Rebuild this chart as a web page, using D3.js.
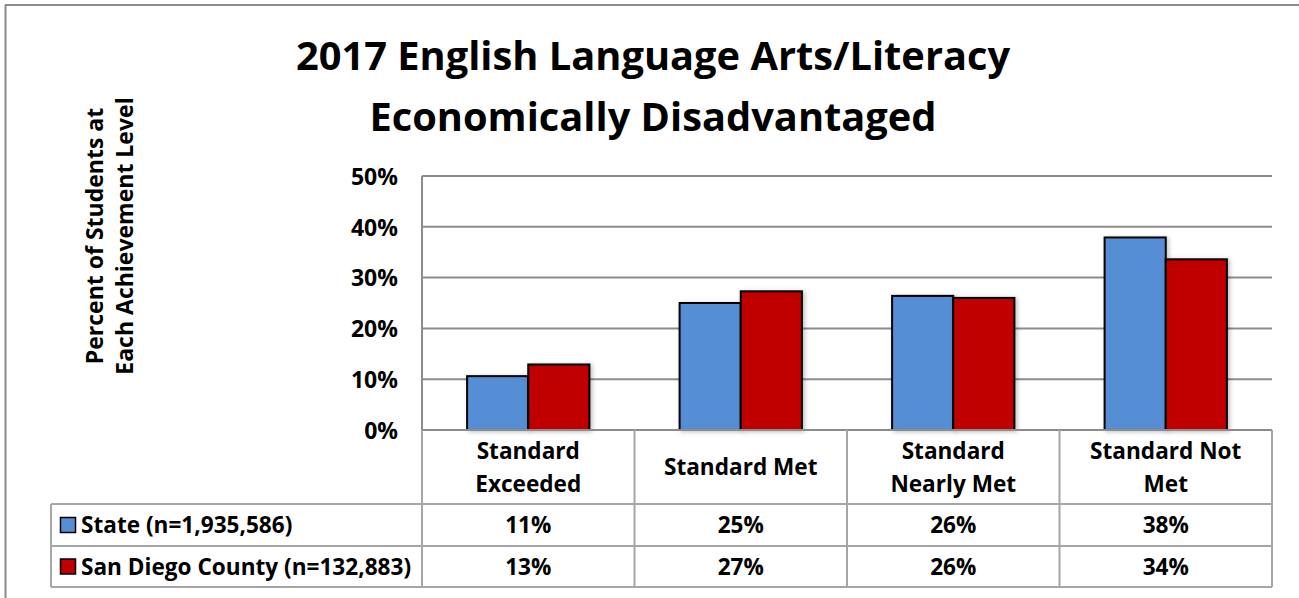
<!DOCTYPE html>
<html><head><meta charset="utf-8">
<script src="https://cdn.jsdelivr.net/npm/d3@7"></script>
<style>
body{margin:0;background:#fff}
svg{display:block}
text{font-family:"Open Sans", Lato, sans-serif;font-weight:bold;fill:#000}
</style>
</head><body>
<svg id="chart" width="1299" height="598"></svg>
<script>
// ---- data ----
const categories = ["Standard Exceeded", "Standard Met", "Standard Nearly Met", "Standard Not Met"];
const categoryLines = [["Standard", "Exceeded"], ["Standard Met"], ["Standard", "Nearly Met"], ["Standard Not", "Met"]];
const seriesNames = ["State (n=1,935,586)", "San Diego County (n=132,883)"];
const stateValues = [10.6, 25.0, 26.4, 37.9];
const sanDiegoValues = [12.9, 27.3, 26.0, 33.6];
const yTicks = [0, 10, 20, 30, 40, 50];
const titleLines = ["2017 English Language Arts/Literacy", "Economically Disadvantaged"];
const yTitleLines = ["Percent of Students at", "Each Achievement Level"];
const seriesColors = ["#558ED5", "#C00000"];

// ---- layout ----
const svg = d3.select("#chart");
const plot = {left: 422, right: 1272, top: 176, bottom: 430};
const tableLeft = 51, headerBottom = 504, row1Bottom = 546, row2Bottom = 587;
const gridColor = "#8c8c8c", tableColor = "#a6a6a6";
const FONT = '"Open Sans", Lato, sans-serif';

const defs = svg.append("defs");
const f = defs.append("filter").attr("id", "shadow").attr("x", "-20%").attr("y", "-20%").attr("width", "140%").attr("height", "140%");
f.append("feDropShadow").attr("dx", 2).attr("dy", 1).attr("stdDeviation", 2).attr("flood-color", "#000").attr("flood-opacity", 0.25);

// outer frame (top and left)
svg.append("line").attr("x1", 5).attr("x2", 1299).attr("y1", 5).attr("y2", 5).attr("stroke", "#8c8c8c").attr("stroke-width", 2);
svg.append("line").attr("x1", 5.5).attr("x2", 5.5).attr("y1", 5).attr("y2", 598).attr("stroke", "#8c8c8c").attr("stroke-width", 2);

// title
svg.append("g").selectAll("text").data(titleLines).join("text")
  .attr("x", 653).attr("y", (d, i) => 70 + i * 61)
  .attr("text-anchor", "middle").attr("font-size", 39.8).text(d => d);

// y title
const yt = svg.append("g").attr("transform", "translate(110,236) rotate(-90)");
yt.selectAll("text").data(yTitleLines).join("text")
  .attr("x", 0).attr("y", (d, i) => -7 + i * 30)
  .attr("text-anchor", "middle").attr("font-size", 23).text(d => d);

// scales
const y = d3.scaleLinear().domain([0, 50]).range([plot.bottom, plot.top]);
const x0 = d3.scaleBand().domain(categories).range([plot.left, plot.right]).paddingInner(0.4245).paddingOuter(0.21225);
const x1 = d3.scaleBand().domain(seriesNames).range([0, x0.bandwidth()]);
const band = (plot.right - plot.left) / categories.length;

// gridlines
svg.append("g").selectAll("line").data(yTicks.filter(d => d > 0)).join("line")
  .attr("x1", plot.left).attr("x2", plot.right)
  .attr("y1", d => y(d)).attr("y2", d => y(d))
  .attr("stroke", gridColor).attr("stroke-width", 2);

// y axis
const yAxis = svg.append("g").attr("transform", `translate(${plot.left - 24},0)`)
  .call(d3.axisLeft(y).tickValues(yTicks).tickFormat(d => d + "%").tickSize(0).tickPadding(0));
yAxis.select(".domain").remove();
yAxis.selectAll("text").attr("font-size", 23).attr("font-family", FONT).attr("fill", "#000").attr("dy", "0.36em");
svg.append("line").attr("x1", plot.left).attr("x2", plot.left).attr("y1", plot.top).attr("y2", plot.bottom)
  .attr("stroke", gridColor).attr("stroke-width", 2);

// bars
const seriesData = [stateValues, sanDiegoValues];
const groups = svg.append("g").selectAll("g").data(categories).join("g")
  .attr("transform", d => `translate(${x0(d)},0)`);
groups.selectAll("rect").data((d, i) => seriesNames.map((s, j) => ({s, j, v: seriesData[j][i]}))).join("rect")
  .attr("x", d => x1(d.s)).attr("width", x1.bandwidth())
  .attr("y", d => y(d.v)).attr("height", d => plot.bottom - y(d.v))
  .attr("fill", d => seriesColors[d.j]).attr("stroke", "#000").attr("stroke-width", 2)
  .attr("filter", "url(#shadow)");

// table lines
const tl = svg.append("g").attr("stroke", tableColor).attr("stroke-width", 2);
tl.append("line").attr("x1", plot.left).attr("x2", plot.right).attr("y1", plot.bottom).attr("y2", plot.bottom).attr("stroke", gridColor);
[headerBottom, row1Bottom, row2Bottom].forEach(yy =>
  tl.append("line").attr("x1", tableLeft).attr("x2", plot.right).attr("y1", yy).attr("y2", yy));
tl.append("line").attr("x1", tableLeft).attr("x2", tableLeft).attr("y1", headerBottom).attr("y2", row2Bottom);
d3.range(categories.length + 1).forEach(i => {
  const xx = plot.left + i * band;
  tl.append("line").attr("x1", xx).attr("x2", xx).attr("y1", plot.bottom).attr("y2", row2Bottom);
});

// category labels
const headerMid = (plot.bottom + headerBottom) / 2;
categories.forEach((c, i) => {
  const cx = x0(c) + x0.bandwidth() / 2;
  const lines = categoryLines[i];
  svg.append("g").selectAll("text").data(lines).join("text")
    .attr("x", cx).attr("y", (d, k) => headerMid + (k - (lines.length - 1) / 2) * 33 + 8)
    .attr("text-anchor", "middle").attr("font-size", 22.6).text(d => d);
});

// table rows
const rowMids = [(headerBottom + row1Bottom) / 2, (row1Bottom + row2Bottom) / 2];
seriesNames.forEach((s, j) => {
  const ym = rowMids[j];
  svg.append("rect").attr("x", 60.5).attr("y", ym - 7.5).attr("width", 15).attr("height", 15)
    .attr("fill", seriesColors[j]).attr("stroke", "#000").attr("stroke-width", 1.5);
  svg.append("text").attr("x", 81).attr("y", ym + 8).attr("font-size", 22.6).text(s);
  svg.append("g").selectAll("text").data(categories).join("text")
    .attr("x", c => x0(c) + x0.bandwidth() / 2).attr("y", ym + 8)
    .attr("text-anchor", "middle").attr("font-size", 22.6)
    .text((c, i) => Math.round(seriesData[j][i]) + "%");
});
</script>
</body></html>
